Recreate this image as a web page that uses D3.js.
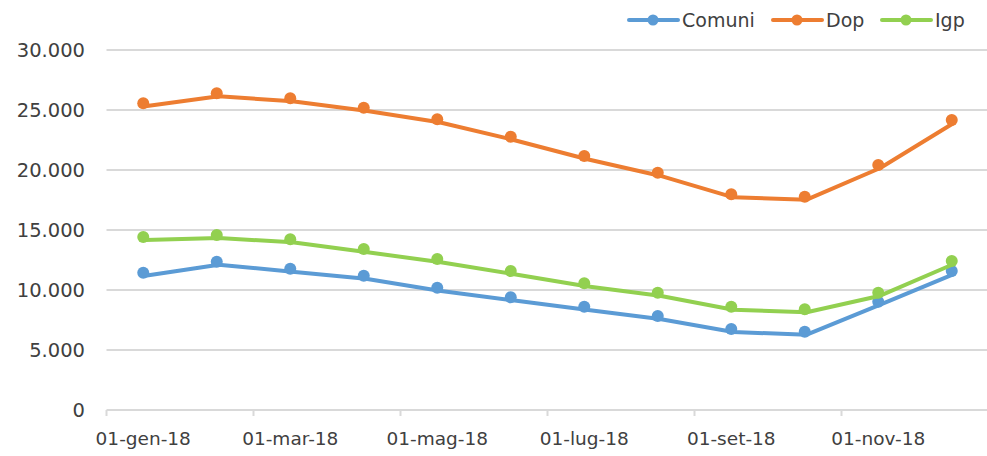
<!DOCTYPE html>
<html><head><meta charset="utf-8">
<script src="https://cdn.jsdelivr.net/npm/d3@7"></script>
<style>
html,body{margin:0;padding:0;background:#fff;}
svg{display:block;font-family:"DejaVu Sans",sans-serif;}
</style></head>
<body>
<svg id="chart" width="987" height="456"></svg>
<script>
const months = ["gen","feb","mar","apr","mag","giu","lug","ago","set","ott","nov","dic"];
const tickLabels = ["01-gen-18","01-mar-18","01-mag-18","01-lug-18","01-set-18","01-nov-18"];
const comuni = [11440,12360,11775,11190,10190,9390,8610,7830,6750,6525,9025,11580];
const dop    = [25560,26390,25975,25190,24225,22775,21170,19775,17975,17775,20415,24165];
const igp    = [14415,14580,14225,13415,12580,11580,10560,9775,8610,8390,9775,12415];
const yTicks = [0,5000,10000,15000,20000,25000,30000];
const seriesNames = ["Comuni","Dop","Igp"];
const colors = ["#5B9BD5","#ED7D31","#92D050"];

const svg = d3.select("#chart");
const x = d3.scaleBand().domain(d3.range(12)).range([106.5, 988.5]).padding(0);
const y = d3.scaleLinear().domain([0,30000]).range([410,50]);
const fmt = v => d3.format(",")(v).replace(/,/g,".");
const textCol = "#404040";

// gridlines
svg.append("g").selectAll("line").data(yTicks.filter(d=>d>0)).join("line")
  .attr("x1",106.5).attr("x2",987).attr("y1",d=>y(d)).attr("y2",d=>y(d))
  .attr("stroke","#D9D9D9").attr("stroke-width",2);
// y labels
svg.append("g").selectAll("text").data(yTicks).join("text")
  .attr("x",85).attr("y",d=>y(d)).attr("dy","0.36em").attr("text-anchor","end")
  .attr("font-size",19.5).attr("fill",textCol).text(d=>fmt(d));
// x axis
svg.append("line").attr("x1",106.5).attr("x2",987).attr("y1",410).attr("y2",410)
  .attr("stroke","#D9D9D9").attr("stroke-width",2);
const tickIdx = d3.range(0,12,2);
svg.append("g").selectAll("line").data(tickIdx).join("line")
  .attr("x1",d=>x(d)).attr("x2",d=>x(d)).attr("y1",410).attr("y2",416)
  .attr("stroke","#D9D9D9").attr("stroke-width",2);
svg.append("g").selectAll("text").data(tickIdx).join("text")
  .attr("x",d=>x(d)+x.bandwidth()/2).attr("y",445).attr("text-anchor","middle")
  .attr("font-size",18.5).attr("fill",textCol).text((d,i)=>tickLabels[i]);

// series
const data = [comuni,dop,igp];
const line = d3.line().x((d,i)=>x(i)+x.bandwidth()/2).y(d=>y(d));
data.forEach((s,k)=>{
  const g = svg.append("g");
  g.append("path").datum(s).attr("d",line).attr("fill","none")
    .attr("stroke",colors[k]).attr("stroke-width",4).attr("stroke-linejoin","round")
    .attr("transform","translate(2,3)");
  g.selectAll("circle").data(s).join("circle")
    .attr("cx",(d,i)=>x(i)+x.bandwidth()/2).attr("cy",d=>y(d)).attr("r",6)
    .attr("fill",colors[k]);
});

// legend
const legX = [629,773,882];
const lg = svg.append("g");
seriesNames.forEach((n,k)=>{
  const gx = legX[k];
  lg.append("line").attr("x1",gx).attr("x2",gx+49).attr("y1",20).attr("y2",20)
    .attr("stroke",colors[k]).attr("stroke-width",4).attr("stroke-linecap","round");
  lg.append("circle").attr("cx",gx+24).attr("cy",20).attr("r",5.5).attr("fill",colors[k]);
  lg.append("text").attr("x",gx+53).attr("y",20).attr("dy","0.36em")
    .attr("font-size",19).attr("fill",textCol).text(n);
});
</script>
</body></html>
